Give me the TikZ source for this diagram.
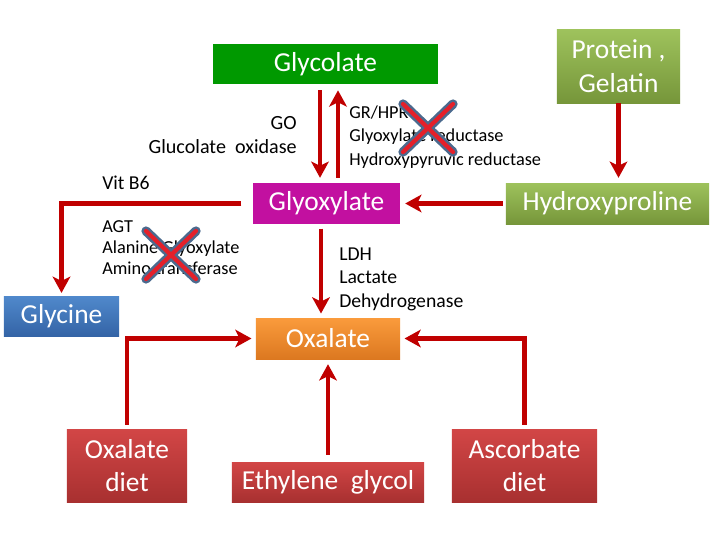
\documentclass[tikz,border=0pt]{standalone}
\usepackage{fontspec}
\setmainfont{Carlito}
\usetikzlibrary{arrows.meta}
\definecolor{arrowred}{HTML}{C00000}
\definecolor{leafgreen}{HTML}{009900}
\definecolor{olivetop}{HTML}{9EC25C}
\definecolor{olivebot}{HTML}{76963A}
\definecolor{plum}{HTML}{C210A0}
\definecolor{bluetop}{HTML}{5089CC}
\definecolor{bluebot}{HTML}{3464A6}
\definecolor{orangetop}{HTML}{FA9B3C}
\definecolor{orangebot}{HTML}{DC7820}
\definecolor{redtop}{HTML}{D24646}
\definecolor{redbot}{HTML}{A83030}
\definecolor{crossblue}{HTML}{4B6A8E}
\definecolor{crossred}{HTML}{E4202A}
\tikzset{
  chembox/.style={inner sep=0pt,align=center,text=white,
                  font=\fontsize{19.5}{24}\selectfont},
  greenbox/.style={chembox,fill=leafgreen},
  olivebox/.style={chembox,top color=olivetop,bottom color=olivebot},
  plumbox/.style={chembox,fill=plum},
  bluebox/.style={chembox,top color=bluetop,bottom color=bluebot},
  orangebox/.style={chembox,top color=orangetop,bottom color=orangebot},
  dietbox/.style={chembox,top color=redtop,bottom color=redbot},
  note/.style={inner sep=0pt,text=black,font=\fontsize{14}{16.8}\selectfont},
  flowarr/.style={-{Stealth[length=11.5pt,width=12.5pt,inset=3pt]},
                  line width=3.4pt,color=arrowred},
  xout/.style={line width=6.6pt,color=crossblue,line cap=round},
  xin/.style={line width=3pt,color=crossred,line cap=round}
}
\begin{document}
\begin{tikzpicture}[x=0.025cm,y=-0.025cm]
  \useasboundingbox (0,0) rectangle (720,540);
  % compounds
  \node[greenbox,minimum width=5.625cm,minimum height=1cm] (glycolate) at (325.5,64) {Glycolate};
  \node[olivebox,minimum width=3.075cm,minimum height=1.825cm] (protein) at (618.5,66.5) {Protein ,\\Gelatin};
  \node[plumbox,minimum width=3.675cm,minimum height=1.025cm] (glyox) at (326.5,203.5) {Glyoxylate};
  \node[olivebox,minimum width=5.075cm,minimum height=1.025cm] (hyp) at (607.5,203.5) {Hydroxyproline};
  \node[bluebox,minimum width=2.875cm,minimum height=1cm] (glycine) at (61.5,316) {Glycine};
  \node[orangebox,minimum width=3.6cm,minimum height=1.025cm] (oxalate) at (328,338.5) {Oxalate};
  \node[dietbox,minimum width=3cm,minimum height=1.825cm] (oxdiet) at (127,465.5) {Oxalate\\diet};
  \node[dietbox,minimum width=4.8cm,minimum height=1cm] (ethgly) at (328,482) {Ethylene~ glycol};
  \node[dietbox,minimum width=3.625cm,minimum height=1.825cm] (ascdiet) at (524.5,465.5) {Ascorbate\\diet};
  % enzymes
  \node[note,align=right,anchor=east,font=\fontsize{14.3}{17}\selectfont] (go) at (297,135) {GO\\Glucolate~ oxidase};
  \node[note,align=left,anchor=west,font=\fontsize{13}{16.6}\selectfont] (grhpr) at (349,137) {GR/HPR\\Glyoxylate reductase\\Hydroxypyruvic reductase};
  \node[note,anchor=west] (vitb6) at (102,183) {Vit B6};
  \node[note,align=left,anchor=west,font=\fontsize{13}{15}\selectfont] (agt) at (102,248) {AGT\\Alanine Glyoxylate\\Amino transferase};
  \node[note,align=left,anchor=west] (ldh) at (339,279) {LDH\\Lactate\\Dehydrogenase};
  % arrows
  \coordinate (dn) at (320,0);
  \coordinate (upx) at (338,0);
  \coordinate (lx) at (321,0);
  \draw[flowarr,shorten <=4.3pt,shorten >=3.5pt] (glycolate.south -| dn) -- (glyox.north -| dn);
  \draw[flowarr,shorten <=3.5pt,shorten >=4.3pt] (glyox.north -| upx) -- (glycolate.south -| upx);
  \draw[flowarr,shorten >=3.5pt] (protein.south) -- (protein.south |- hyp.north);
  \draw[flowarr,shorten <=2pt,shorten >=3.5pt] (hyp.west) -- (glyox.east);
  \draw[flowarr,shorten <=8pt,shorten >=2pt] (glyox.west) -| (glycine.north);
  \draw[flowarr,shorten <=3pt,shorten >=3pt] (glyox.south -| lx) -- (oxalate.north -| lx);
  \draw[flowarr,shorten <=3pt,shorten >=3pt] (oxdiet.north) |- (oxalate.west);
  \draw[flowarr,shorten <=3pt,shorten >=3pt] (ascdiet.north) |- (oxalate.east);
  \draw[flowarr,shorten <=5pt,shorten >=3.5pt] (ethgly.north) -- (oxalate.south);
  % blocked steps
  \foreach \cx/\cy in {428/128,171/255}{
    \draw[xout] (\cx-25,\cy-24) -- (\cx+25,\cy+24) (\cx+25,\cy-24) -- (\cx-25,\cy+24);
    \draw[xin] (\cx-25,\cy-24) -- (\cx+25,\cy+24) (\cx+25,\cy-24) -- (\cx-25,\cy+24);
  }
\end{tikzpicture}
\end{document}
